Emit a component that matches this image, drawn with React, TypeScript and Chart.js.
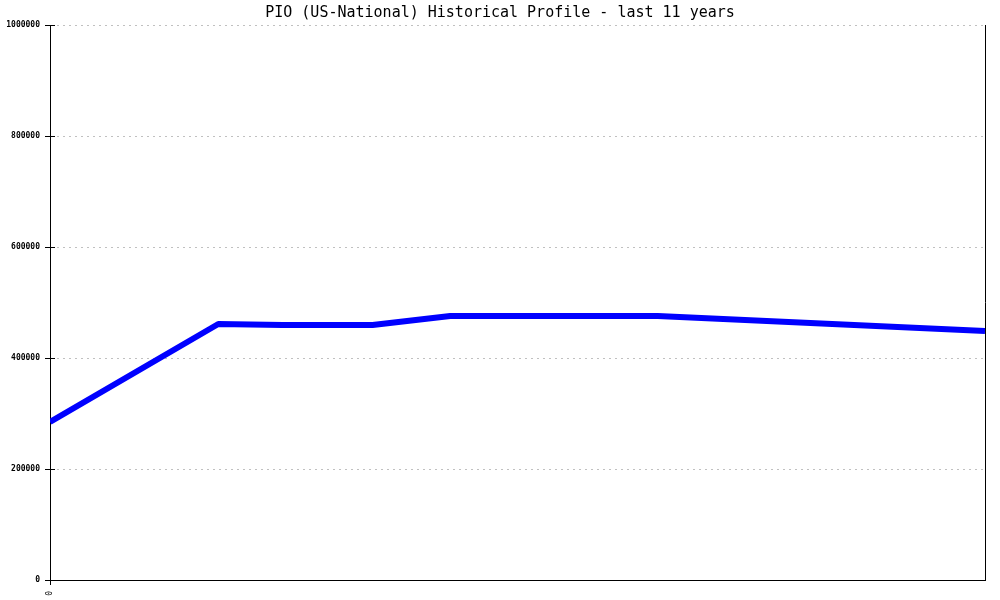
import React, { useEffect, useRef } from "react";
import { Chart, registerables } from "chart.js";

Chart.register(...registerables);

const titleText = "PIO (US-National) Historical Profile - last 11 years";
const yearPos = [0, 1.8, 2.49, 3.45, 4.28, 6.5, 10];
const profileValues = [284700, 461300, 459500, 459500, 475700, 475700, 448600];
const yTicks = [0, 200000, 400000, 600000, 800000, 1000000];
const xTickLabels = ["0"];

const mono = "'DejaVu Sans Mono', 'Liberation Mono', monospace";

const framePlugin = {
  id: "frame",
  beforeDatasetsDraw(chart: any) {
    const { ctx, chartArea, scales } = chart;
    const y = scales.y;
    ctx.save();
    ctx.strokeStyle = "#c0c0c0";
    ctx.lineWidth = 1;
    ctx.setLineDash([2, 4]);
    ctx.beginPath();
    yTicks.forEach((v) => {
      if (v === 0) return;
      const py = Math.round(y.getPixelForValue(v)) + 0.5;
      ctx.moveTo(chartArea.left + 1, py);
      ctx.lineTo(chartArea.right, py);
    });
    ctx.stroke();
    ctx.restore();
  },
  afterDraw(chart: any) {
    const { ctx, chartArea, scales } = chart;
    const y = scales.y;
    ctx.save();
    ctx.strokeStyle = "#000";
    ctx.lineWidth = 1;
    ctx.beginPath();
    ctx.moveTo(chartArea.right + 0.5, chartArea.top);
    ctx.lineTo(chartArea.right + 0.5, chartArea.bottom);
    yTicks.forEach((v) => {
      const py = Math.round(y.getPixelForValue(v)) + 0.5;
      ctx.moveTo(chartArea.left - 5, py);
      ctx.lineTo(chartArea.left + 5, py);
    });
    ctx.stroke();
    ctx.fillStyle = "#000";
    ctx.font = `normal 15px ${mono}`;
    ctx.textAlign = "center";
    ctx.textBaseline = "middle";
    ctx.fillText(titleText, chart.width / 2, 13);
    ctx.restore();
  },
};

export default function App() {
  const ref = useRef<HTMLCanvasElement | null>(null);
  useEffect(() => {
    if (!ref.current) return;
    const chart = new Chart(ref.current, {
      type: "line",
      data: {
        datasets: [
          {
            data: yearPos.map((x, i) => ({ x, y: profileValues[i] })),
            borderColor: "#0000ff",
            borderWidth: 6,
            pointRadius: 0,
            tension: 0,
            fill: false,
            borderJoinStyle: "bevel",
          },
        ],
      },
      options: {
        animation: false,
        responsive: false,
        layout: { padding: { left: 0, right: 15, top: 25, bottom: 0 } },
        plugins: {
          legend: { display: false },
          tooltip: { enabled: false },
          title: { display: false },
        },
        scales: {
          x: {
            type: "linear",
            min: 0,
            max: 10,
            afterBuildTicks: (s: any) => {
              s.ticks = [{ value: 0 }];
            },
            afterFit: (s: any) => {
              s.height = 20;
            },
            ticks: {
              autoSkip: false,
              minRotation: 90,
              maxRotation: 90,
              padding: 6,
              color: "#000",
              font: { family: mono, size: 8 },
              callback: (_v: any, i: number) => xTickLabels[i] ?? "",
            },
            grid: {
              drawOnChartArea: false,
              tickLength: 5,
              tickColor: "#000",
            },
            border: { display: true, color: "#000", width: 1 },
          },
          y: {
            min: 0,
            max: 1000000,
            afterBuildTicks: (s: any) => {
              s.ticks = yTicks.map((v) => ({ value: v }));
            },
            afterFit: (s: any) => {
              s.width = 50;
            },
            ticks: {
              padding: 5,
              color: "#000",
              font: { family: mono, size: 8, weight: "bold" },
              callback: (v: any) => String(v),
            },
            grid: {
              drawOnChartArea: false,
              tickLength: 5,
              tickColor: "rgba(0,0,0,0)",
            },
            border: { display: true, color: "#000", width: 1 },
          },
        },
      },
      plugins: [framePlugin],
    });
    return () => chart.destroy();
  }, []);
  return (
    <div style={{ position: "fixed", left: 0, top: 0, width: 1000, height: 600, background: "#fff" }}>
      <canvas ref={ref} width={1000} height={600} style={{ display: "block" }} />
    </div>
  );
}
